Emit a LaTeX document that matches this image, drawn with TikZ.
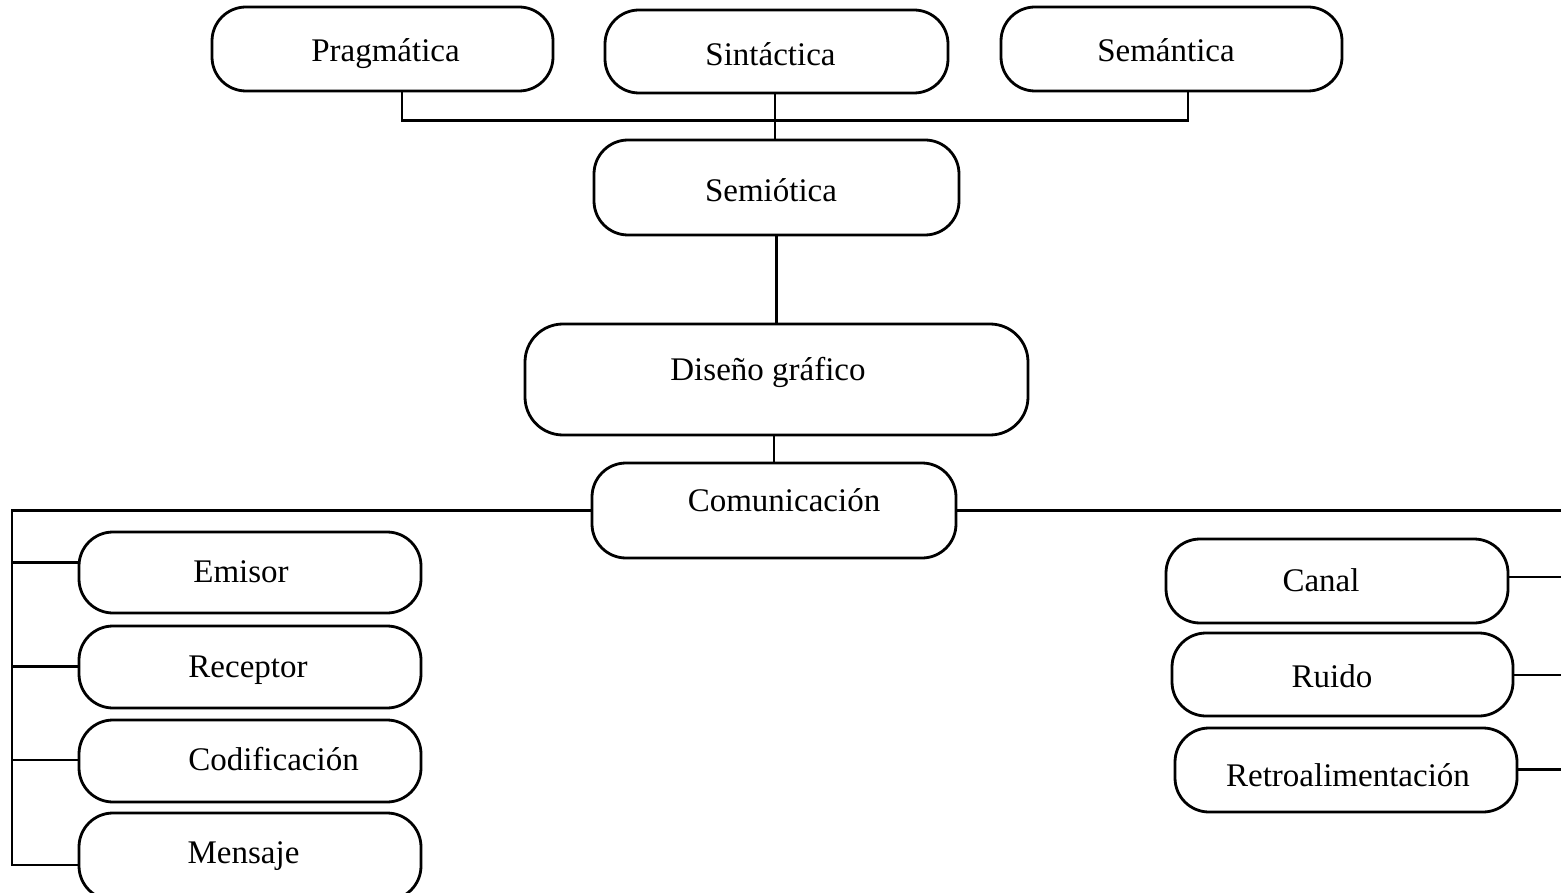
\documentclass[tikz,border=0pt]{standalone}
\usepackage{fontspec}
\setmainfont{Liberation Serif}
\begin{document}
\begin{tikzpicture}[x=1pt,y=-1pt,
  box/.style={draw, line width=2.8pt, rounded corners=34pt, inner sep=0pt},
  txt/.style={anchor=base, inner sep=0pt, font=\fontsize{33}{36}\selectfont},
  conn/.style={line width=2.8pt}]
\useasboundingbox (0,0) rectangle (1561,893);
% boxes
\node[box, minimum width=341pt, minimum height=84pt] (prag) at (382.5,49) {};
\node[box, minimum width=343pt, minimum height=83pt] (sint) at (776.5,51.5) {};
\node[box, minimum width=341pt, minimum height=84pt] (sem) at (1171.5,49) {};
\node[box, minimum width=365pt, minimum height=95pt] (semio) at (776.5,187.5) {};
\node[box, minimum width=503pt, minimum height=111pt, rounded corners=38pt] (dis) at (776.5,379.5) {};
\node[box, minimum width=364pt, minimum height=95pt] (com) at (774,510.5) {};
\node[box, minimum width=342pt, minimum height=81pt] (emi) at (250,572.5) {};
\node[box, minimum width=342pt, minimum height=82pt] (rec) at (250,667) {};
\node[box, minimum width=342pt, minimum height=82pt] (cod) at (250,761) {};
\node[box, minimum width=342pt, minimum height=87pt] (men) at (250,856.5) {};
\node[box, minimum width=342pt, minimum height=84pt] (can) at (1337,581) {};
\node[box, minimum width=341pt, minimum height=83pt] (rui) at (1342.5,674.5) {};
\node[box, minimum width=342pt, minimum height=84pt] (ret) at (1346,770) {};
% texts
\node[txt] (tprag) at (385.5,61.7) {Pragmática};
\node[txt] (tsint) at (770.5,65.7) {Sintáctica};
\node[txt] (tsem) at (1166,61.7) {Semántica};
\node[txt] (tsemio) at (771,201.7) {Semiótica};
\node[txt] (tdis) at (768,380) {Diseño gráfico};
\node[txt] (tcom) at (784,511.7) {Comunicación};
\node[txt] (temi) at (241,582.7) {Emisor};
\node[txt] (trec) at (248,677) {Receptor};
\node[txt] (tcod) at (273.5,770.7) {Codificación};
\node[txt] (tmen) at (243.5,863) {Mensaje};
\node[txt] (tcan) at (1321,591.7) {Canal};
\node[txt] (trui) at (1332,687) {Ruido};
\node[txt] (tret) at (1348,786.7) {Retroalimentación};
% junction coordinates
\coordinate (jl) at (402,120.5);
\coordinate (jm) at (775,120.5);
\coordinate (jr) at (1188,120.5);
\coordinate (lt) at (12,510.5);
\coordinate (le) at (12,562.5);
\coordinate (lr) at (12,666.5);
\coordinate (lc) at (12,760);
\coordinate (lb) at (12,865);
\coordinate (rt) at (1561,510.5);
\coordinate (rc) at (1561,577);
\coordinate (rr) at (1561,675);
\coordinate (rf) at (1561,769.5);
% connectors
\draw[conn] (prag.south -| jl) -- (jl) -- (jr) -- (sem.south -| jr);
\draw[conn] (sint.south -| jm) -- (semio.north -| jm);
\draw[conn] (semio.south) -- (dis.north);
\draw[conn] (dis.south -| com.north) -- (com.north);
\draw[conn] (com.west) -- (lt) -- (lb) -- (lb -| men.west);
\draw[conn] (le) -- (le -| emi.west);
\draw[conn] (lr) -- (lr -| rec.west);
\draw[conn] (lc) -- (lc -| cod.west);
\draw[conn] (com.east) -- (rt);
\draw[conn] (can.east |- rc) -- (rc);
\draw[conn] (rui.east |- rr) -- (rr);
\draw[conn] (ret.east |- rf) -- (rf);
\end{tikzpicture}
\end{document}
